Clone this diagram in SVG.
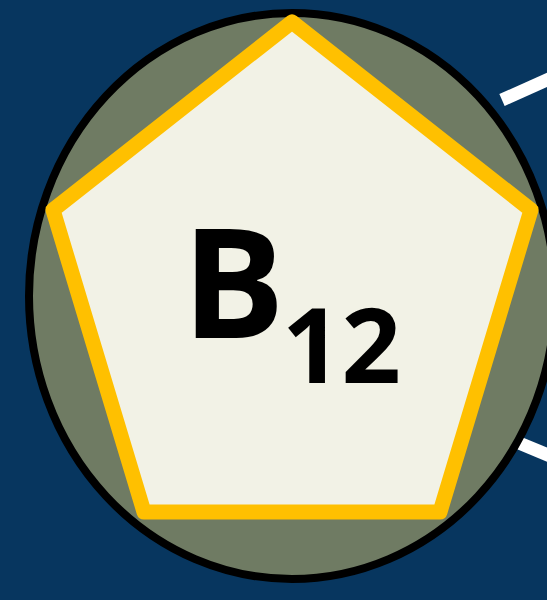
<svg xmlns="http://www.w3.org/2000/svg" width="547" height="600" viewBox="0 0 547 600">
<style>
.conn{stroke:#FFFFFF;stroke-width:13;fill:none}
.lbl{font-family:"Open Sans",Lato,"Liberation Sans",sans-serif;font-weight:bold;fill:#000000}
</style>
<rect x="0" y="0" width="547" height="600" fill="#07365F"/>
<g id="connectors">
<line class="conn" x1="502" y1="100" x2="560" y2="74"/>
<line class="conn" x1="519" y1="443" x2="560" y2="460"/>
</g>
<g id="node-b12">
<ellipse cx="292" cy="296" rx="263" ry="283" fill="#6F7B63" stroke="#000000" stroke-width="8"/>
<polygon points="292,22 531,210 440,512 144,512 53,210" fill="#F2F2E6" stroke="#FFC000" stroke-width="15" stroke-linejoin="round"/>
<text class="lbl" x="182" y="338" font-size="153">B</text>
<text class="lbl" x="282" y="383" font-size="104">12</text>
</g>
</svg>
